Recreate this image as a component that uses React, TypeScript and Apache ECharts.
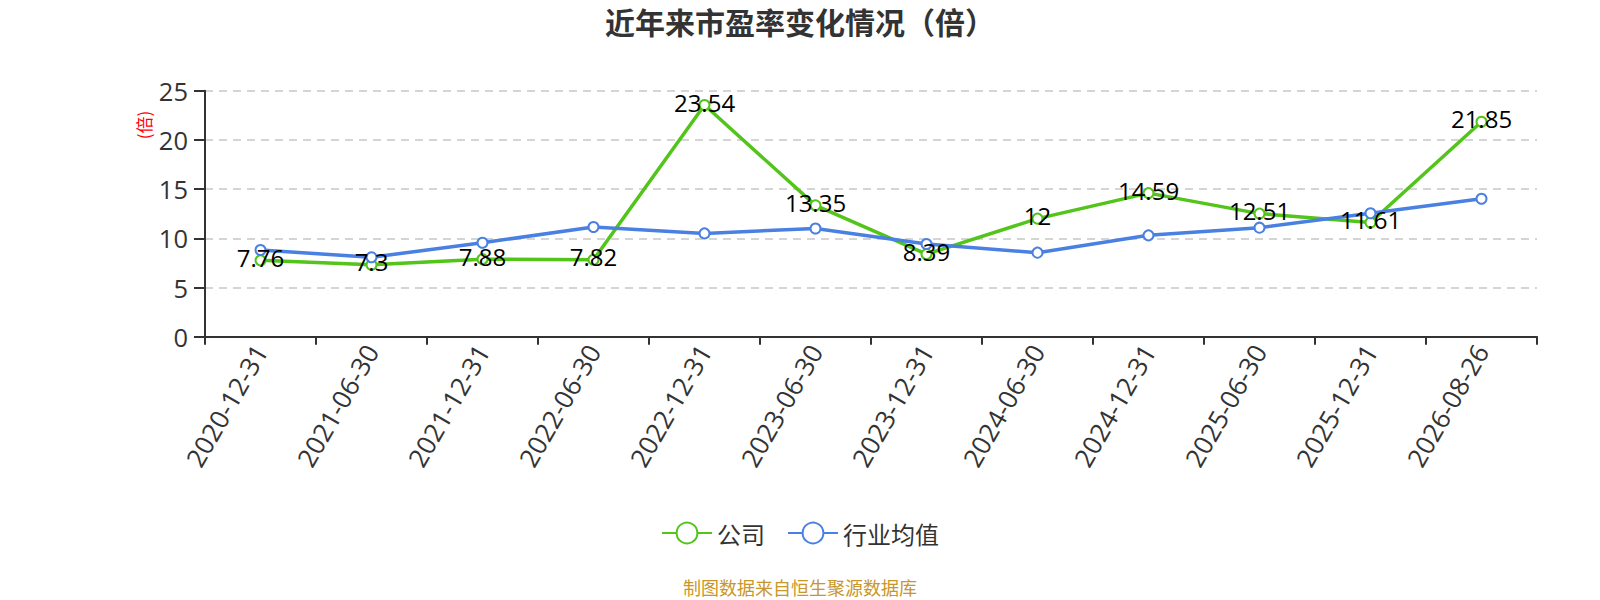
import React, { useEffect, useRef } from "react";
import * as echarts from "echarts";

const categories = [
  "2020-12-31", "2021-06-30", "2021-12-31", "2022-06-30", "2022-12-31", "2023-06-30",
  "2023-12-31", "2024-06-30", "2024-12-31", "2025-06-30", "2025-12-31", "2026-08-26",
];
const companyValues = [7.76, 7.3, 7.88, 7.82, 23.54, 13.35, 8.39, 12, 14.59, 12.51, 11.61, 21.85];
const industryValues = [8.81, 8.07, 9.55, 11.15, 10.5, 11.0, 9.42, 8.54, 10.3, 11.08, 12.54, 14.02];
const yTicks = { min: 0, max: 25, interval: 5 };
const seriesNames = ["公司", "行业均值"];
const titleText = "近年来市盈率变化情况（倍）";
const unitText = "(倍)";
const sourceText = "制图数据来自恒生聚源数据库";

const FONT = "'Open Sans', 'Noto Sans CJK SC', sans-serif";
const CJK = "'Noto Sans CJK SC', sans-serif";
const GREEN = "#52c41a";
const BLUE = "#4a80e2";

export default function App() {
  const ref = useRef<HTMLDivElement>(null);
  useEffect(() => {
    document.body.style.margin = "0";
    if (!ref.current) return;
    const chart = echarts.init(ref.current, undefined, { renderer: "svg" });
    chart.setOption({
      animation: false,
      textStyle: { fontFamily: FONT },
      title: {
        text: titleText,
        left: "center",
        top: 1,
        textStyle: { fontSize: 30, fontWeight: "bold", color: "#333", fontFamily: CJK },
      },
      grid: { left: 205, right: 63, top: 90.7, bottom: 263.3, containLabel: false },
      legend: {
        bottom: 50,
        left: "center",
        itemWidth: 50,
        itemHeight: 26,
        itemGap: 22,
        textStyle: { fontSize: 24, color: "#333", fontFamily: CJK },
        data: seriesNames,
      },
      xAxis: {
        type: "category",
        data: categories,
        boundaryGap: true,
        axisLine: { lineStyle: { color: "#333", width: 2 } },
        axisTick: { show: true, length: 8, lineStyle: { width: 2 } },
        axisLabel: { rotate: 60, fontSize: 26, color: "#333", margin: 10, interval: 0 },
      },
      yAxis: {
        type: "value",
        min: yTicks.min,
        max: yTicks.max,
        interval: yTicks.interval,
        axisLine: { show: true, lineStyle: { color: "#333", width: 2 } },
        axisTick: { show: true, length: 11, lineStyle: { width: 2 } },
        axisLabel: { fontSize: 25.5, color: "#333", margin: 17 },
        splitLine: { lineStyle: { type: [8, 6], color: "#c8c8c8", width: 1.5 } },
      },
      graphic: [
        {
          type: "text",
          x: 143,
          y: 125,
          rotation: Math.PI / 2,
          style: {
            text: unitText,
            fill: "red",
            fontSize: 17,
            fontFamily: CJK,
            textAlign: "center",
            textVerticalAlign: "middle",
          },
        },
        {
          type: "text",
          left: "center",
          top: 578,
          style: {
            text: sourceText,
            fill: "#c9962b",
            fontSize: 18,
            fontFamily: CJK,
          },
        },
      ],
      series: [
        {
          name: seriesNames[0],
          type: "line",
          data: companyValues,
          symbol: "emptyCircle",
          symbolSize: 10,
          lineStyle: { width: 3.5, color: GREEN },
          itemStyle: { color: GREEN, borderWidth: 2 },
          label: { show: true, position: "inside", offset: [0, -3], fontSize: 24, color: "#000" },
        },
        {
          name: seriesNames[1],
          type: "line",
          data: industryValues,
          symbol: "emptyCircle",
          symbolSize: 10,
          lineStyle: { width: 3.5, color: BLUE },
          itemStyle: { color: BLUE, borderWidth: 2 },
        },
      ],
    });
    return () => chart.dispose();
  }, []);
  return <div ref={ref} style={{ width: 1600, height: 600 }} />;
}
